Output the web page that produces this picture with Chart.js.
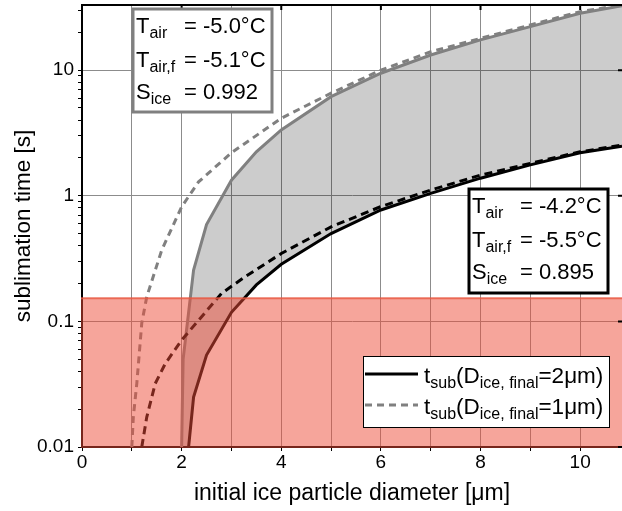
<!DOCTYPE html>
<html>
<head>
<meta charset="utf-8">
<script src="https://cdn.jsdelivr.net/npm/chart.js@4.4.1/dist/chart.umd.min.js"></script>
<style>
  html, body { margin: 0; padding: 0; background: #fff; }
  canvas { display: block; }
</style>
</head>
<body>
<canvas id="subChart" width="622" height="511"></canvas>
<script>
/* =========================
   DATA
========================= */
// T_air = -5.0°C, D_final = 2 µm  (grey solid)
const coldSolidX = [2.0, 2.03, 2.24, 2.5, 3.0, 3.5, 4.0, 5.0, 6.0, 7.0, 8.0, 9.0, 10.0, 10.84];
const coldSolidY = [0.01, 0.05, 0.256, 0.59, 1.33, 2.24, 3.34, 6.15, 9.45, 13.2, 17.4, 22.2, 28.4, 32.5];

// T_air = -5.0°C, D_final = 1 µm  (grey dashed)
const coldDashX = [1.0, 1.03, 1.1, 1.2, 1.3, 1.6, 2.0, 2.34, 3.0, 4.0, 5.0, 6.0, 7.0, 8.0, 9.0, 10.0, 10.84];
const coldDashY = [0.01, 0.0173, 0.032, 0.097, 0.157, 0.369, 0.817, 1.29, 2.2, 4.14, 6.55, 10.0, 14.0, 17.9, 22.9, 29.2, 33.0];

// T_air = -4.2°C, D_final = 2 µm  (black solid)
const warmSolidX = [2.14, 2.24, 2.5, 3.0, 3.5, 4.0, 5.0, 6.0, 7.0, 8.0, 9.0, 10.0, 10.84];
const warmSolidY = [0.01, 0.025, 0.054, 0.118, 0.195, 0.285, 0.50, 0.77, 1.045, 1.38, 1.76, 2.2, 2.48];

// T_air = -4.2°C, D_final = 1 µm  (black dashed)
const warmDashX = [1.2, 1.3, 1.47, 1.67, 2.0, 2.34, 2.8, 3.27, 4.0, 5.0, 6.0, 7.0, 8.0, 9.0, 10.0, 10.84];
const warmDashY = [0.01, 0.0173, 0.032, 0.046, 0.071, 0.102, 0.167, 0.226, 0.347, 0.566, 0.82, 1.11, 1.46, 1.81, 2.24, 2.53];

// red "too short" band upper limit [s]
const limitTime = 0.153;

// axes
const xMax = 10.84;
const yMin = 0.01;
const yMax = 33;
const xGrid = [0, 1, 2, 3, 4, 5, 6, 7, 8, 9, 10];
const xLabels = ['0', '', '2', '', '4', '', '6', '', '8', '', '10'];
const yMajor = [0.01, 0.1, 1, 10];
const yMajorLabels = ['0.01', '0.1', '1', '10'];
const yTitle = 'sublimation time [s]';

// text boxes
const paramNames = [['T', 'air'], ['T', 'air,f'], ['S', 'ice']];
const coldValues = ['-5.0°C', '-5.1°C', '0.992'];
const warmValues = ['-4.2°C', '-5.5°C', '0.895'];
const legendTexts = [
  [['t', 0], ['sub', 1], ['(D', 0], ['ice, final', 1], ['=2μm)', 0]],
  [['t', 0], ['sub', 1], ['(D', 0], ['ice, final', 1], ['=1μm)', 0]]
];

/* =========================
   HELPERS
========================= */
const FONT = '"Liberation Sans", Arial, sans-serif';

function toPoints(xs, ys) {
  return xs.map((x, i) => ({ x: x, y: ys[i] }));
}

function yTickValues() {
  const vals = [];
  yMajor.forEach(d => {
    for (let m = 1; m <= 9; m++) {
      const v = m === 1 ? d : d * m;
      if (v <= yMax) vals.push(v);
    }
  });
  return vals;
}

// draws text made of [string, isSubscript] parts
function drawRich(ctx, parts, x, y, size, subSize) {
  let cx = x;
  parts.forEach(p => {
    const sub = p[1];
    ctx.font = (sub ? subSize : size) + 'px ' + FONT;
    ctx.fillText(p[0], cx, sub ? y + 5 : y);
    cx += ctx.measureText(p[0]).width;
  });
}

function drawParamBox(ctx, left, top, w, h, border, values) {
  ctx.save();
  ctx.fillStyle = '#fff';
  ctx.fillRect(left, top, w, h);
  ctx.lineWidth = 3;
  ctx.strokeStyle = border;
  ctx.strokeRect(left, top, w, h);
  ctx.fillStyle = '#000';
  ctx.textBaseline = 'alphabetic';
  const rows = [24, 57.5, 90];
  paramNames.forEach((nm, i) => {
    drawRich(ctx, [[nm[0], 0], [nm[1], 1]], left + 3, top + rows[i], 22, 16);
    ctx.font = '22px ' + FONT;
    ctx.fillText('= ' + values[i], left + 51, top + rows[i]);
  });
  ctx.restore();
}

/* =========================
   OVERLAY PLUGIN
========================= */
const overlayPlugin = {
  id: 'overlay',
  afterDatasetsDraw(chart) {
    const { ctx, chartArea: a, scales } = chart;
    const top = scales.y.getPixelForValue(limitTime);
    ctx.save();
    ctx.fillStyle = 'rgba(238,75,55,0.5)';
    ctx.fillRect(a.left - 1, top, a.right - a.left + 1, a.bottom + 1 - top);
    ctx.strokeStyle = 'rgba(232,85,62,0.8)';
    ctx.lineWidth = 2;
    ctx.beginPath();
    ctx.moveTo(a.left - 1, top);
    ctx.lineTo(a.right, top);
    ctx.stroke();
    ctx.restore();
  },
  afterDraw(chart) {
    const { ctx, chartArea: a, scales } = chart;

    // top frame + mirrored ticks
    ctx.save();
    ctx.strokeStyle = '#000';
    ctx.lineWidth = 2;
    ctx.beginPath();
    ctx.moveTo(a.left - 1, a.top);
    ctx.lineTo(a.right, a.top);
    xGrid.forEach((v, i) => {
      if (!xLabels[i]) return;
      const px = scales.x.getPixelForValue(v);
      ctx.moveTo(px, a.top);
      ctx.lineTo(px, a.top + 5);
    });
    yMajor.forEach(v => {
      const py = scales.y.getPixelForValue(v);
      ctx.moveTo(a.right - 4, py);
      ctx.lineTo(a.right, py);
    });
    ctx.stroke();
    ctx.restore();

    // y axis title
    ctx.save();
    ctx.translate(30, (a.top + a.bottom) / 2);
    ctx.rotate(-Math.PI / 2);
    ctx.fillStyle = '#000';
    ctx.font = '22.5px ' + FONT;
    ctx.textAlign = 'center';
    ctx.textBaseline = 'alphabetic';
    ctx.fillText(yTitle, 0, 0);
    ctx.restore();

    drawParamBox(ctx, a.left + 51, a.top + 4, 139, 103, '#808080', coldValues);
    drawParamBox(ctx, a.left + 387, a.top + 184, 139, 104, '#000', warmValues);

    // legend
    const lx = a.left + 281, ly = a.top + 351;
    ctx.save();
    ctx.fillStyle = '#fff';
    ctx.fillRect(lx, ly, 246, 71);
    ctx.strokeStyle = '#000';
    ctx.lineWidth = 1;
    ctx.strokeRect(lx + 0.5, ly + 0.5, 246, 71);
    ctx.lineWidth = 3;
    ctx.strokeStyle = '#000';
    ctx.beginPath();
    ctx.moveTo(lx + 2, ly + 18);
    ctx.lineTo(lx + 55, ly + 18);
    ctx.stroke();
    ctx.strokeStyle = '#808080';
    ctx.setLineDash([7, 5]);
    ctx.beginPath();
    ctx.moveTo(lx + 2, ly + 49);
    ctx.lineTo(lx + 55, ly + 49);
    ctx.stroke();
    ctx.setLineDash([]);
    ctx.fillStyle = '#000';
    drawRich(ctx, legendTexts[0], lx + 61, ly + 27, 22.5, 16);
    drawRich(ctx, legendTexts[1], lx + 61, ly + 58, 22.5, 16);
    ctx.restore();
  }
};

/* =========================
   CHART
========================= */
const shapePoints = toPoints(coldSolidX, coldSolidY)
  .concat(toPoints(warmSolidX, warmSolidY).reverse());

const lineBase = { showLine: true, pointRadius: 0, borderWidth: 3, tension: 0, fill: false };

new Chart(document.getElementById('subChart'), {
  type: 'scatter',
  data: {
    datasets: [
      Object.assign({ label: 'warm 2µm', data: toPoints(warmSolidX, warmSolidY), borderColor: '#000' }, lineBase),
      Object.assign({ label: 'warm 1µm', data: toPoints(warmDashX, warmDashY), borderColor: '#000', borderDash: [8, 5] }, lineBase),
      Object.assign({ label: 'cold 2µm', data: toPoints(coldSolidX, coldSolidY), borderColor: '#808080' }, lineBase),
      Object.assign({ label: 'cold 1µm', data: toPoints(coldDashX, coldDashY), borderColor: '#808080', borderDash: [7, 5] }, lineBase),
      {
        label: 'range',
        data: shapePoints,
        showLine: true,
        pointRadius: 0,
        borderWidth: 0,
        borderColor: 'rgba(0,0,0,0)',
        backgroundColor: 'rgba(0,0,0,0.2)',
        fill: 'shape',
        tension: 0
      }
    ]
  },
  options: {
    responsive: false,
    animation: false,
    devicePixelRatio: 1,
    layout: { padding: { top: 5, right: 0, left: 0, bottom: 0 } },
    plugins: { legend: { display: false }, tooltip: { enabled: false } },
    scales: {
      x: {
        type: 'linear',
        min: 0,
        max: xMax,
        afterBuildTicks: s => { s.ticks = xGrid.map(v => ({ value: v })); },
        afterFit: s => { s.height = 64; s.paddingRight = 0; },
        ticks: {
          autoSkip: false,
          maxRotation: 0,
          padding: 0,
          color: '#000',
          font: { family: FONT, size: 19 },
          callback: v => xLabels[xGrid.indexOf(v)]
        },
        grid: { color: '#8c8c8c', lineWidth: 1, tickLength: 4, tickColor: '#000' },
        border: { color: '#000', width: 2 },
        title: {
          display: true,
          text: 'initial ice particle diameter [μm]',
          color: '#000',
          font: { family: FONT, size: 23 },
          padding: { top: 0, bottom: 4 }
        }
      },
      y: {
        type: 'logarithmic',
        min: yMin,
        max: yMax,
        afterBuildTicks: s => { s.ticks = yTickValues().map(v => ({ value: v })); },
        afterFit: s => { s.width = 82; s.paddingTop = 0; s.paddingBottom = 0; },
        ticks: {
          autoSkip: false,
          padding: 4,
          color: '#000',
          font: { family: FONT, size: 19 },
          callback: v => {
            const i = yMajor.indexOf(v);
            return i >= 0 ? yMajorLabels[i] : '';
          }
        },
        grid: {
          color: c => (c.tick && yMajor.indexOf(c.tick.value) >= 0) ? '#8c8c8c' : 'rgba(0,0,0,0)',
          lineWidth: 1,
          tickLength: 4,
          tickColor: '#000'
        },
        border: { color: '#000', width: 2 },
        title: { display: false }
      }
    }
  },
  plugins: [overlayPlugin]
});
</script>
</body>
</html>
